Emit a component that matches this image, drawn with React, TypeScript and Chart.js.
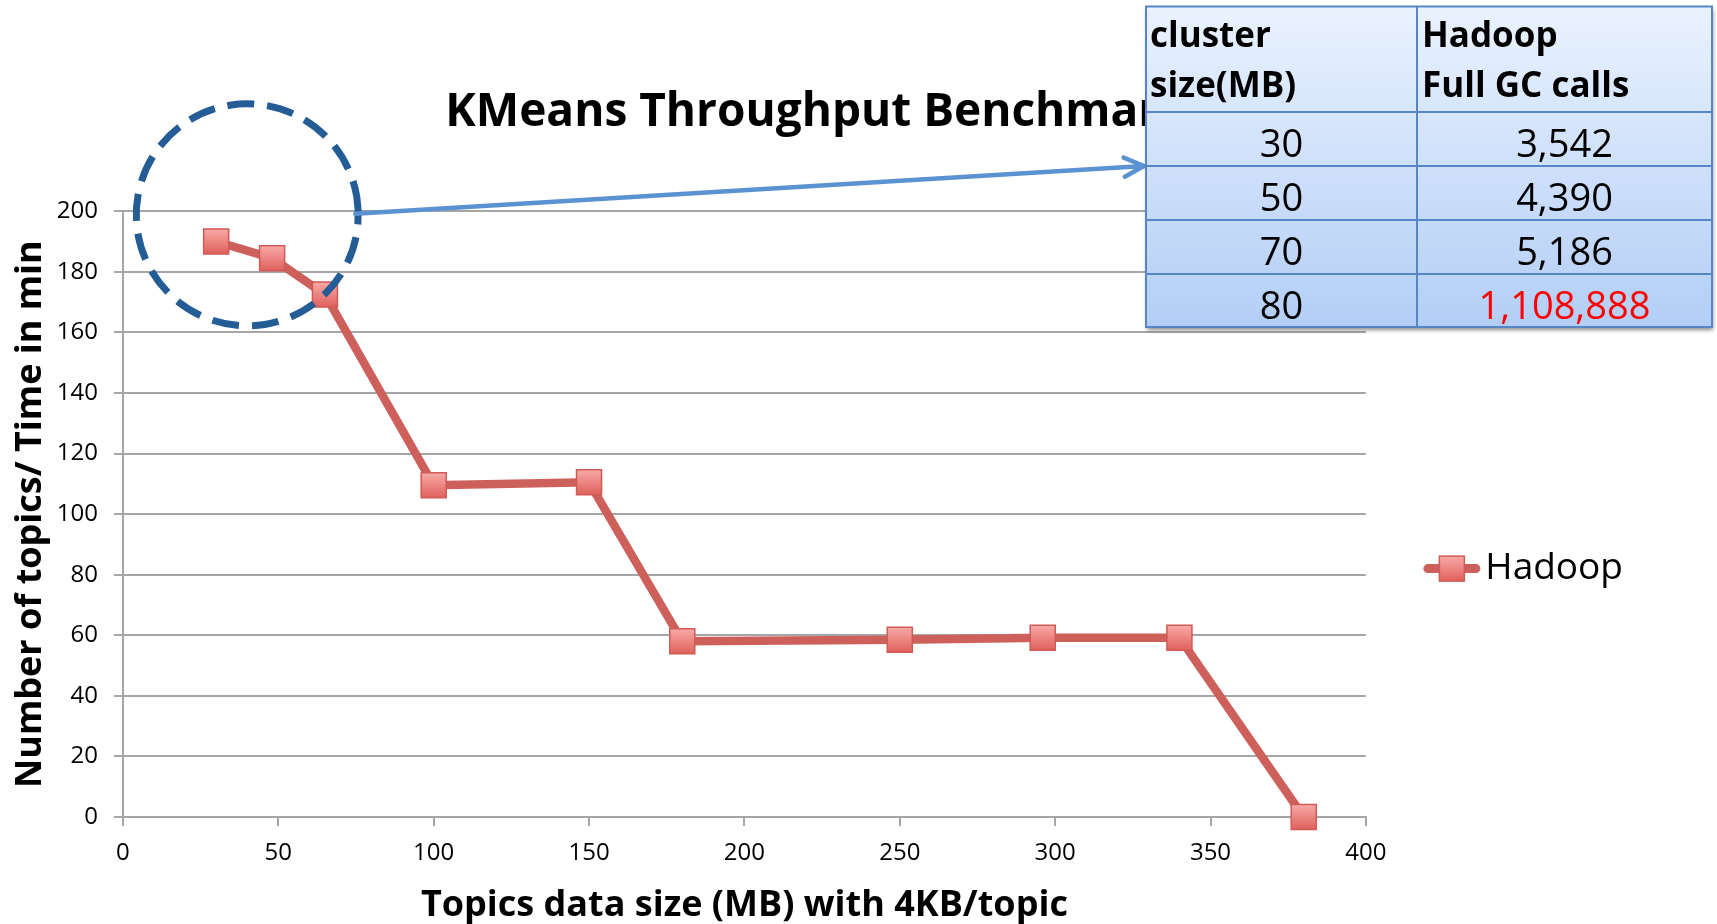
import React, { useEffect, useRef } from 'react';
import { Chart, registerables } from 'chart.js';

Chart.register(...registerables);

// ---- data ----
const chartTitle = 'KMeans Throughput Benchmark';
const xAxisTitle = 'Topics data size (MB) with 4KB/topic';
const yAxisTitle = 'Number of topics/ Time in min';
const seriesName = 'Hadoop';
const dataSizesMB = [30, 48, 65, 100, 150, 180, 250, 296, 340, 380];
const throughput = [190, 184.5, 172.5, 109.5, 110.5, 58, 58.5, 59.2, 59.2, 0];
const xTicks = [0, 50, 100, 150, 200, 250, 300, 350, 400];
const yTicks = [0, 20, 40, 60, 80, 100, 120, 140, 160, 180, 200];
const tableHeaderLeft = ['cluster', 'size(MB)'];
const tableHeaderRight = ['Hadoop', 'Full GC calls'];
const clusterSizes = ['30', '50', '70', '80'];
const fullGcCalls = ['3,542', '4,390', '5,186', '1,108,888'];
const highlightedRow = 3;
// circled region (data units)
const circleCenter = { x: 40, y: 198.8 };

const FONT = "'Open Sans', 'Noto Sans', 'DejaVu Sans', sans-serif";
const LINE_COLOR = 'rgb(205,96,90)';
const GRID = '#a6a6a6';

function markerFill(ctx: CanvasRenderingContext2D, cy: number, half: number) {
  if (!isFinite(cy)) return '#ec7672';
  const g = ctx.createLinearGradient(0, cy - half, 0, cy + half);
  g.addColorStop(0, '#f8aaa8');
  g.addColorStop(1, '#e0605b');
  return g;
}

const overlayPlugin = {
  id: 'overlay',
  afterDraw(chart: any) {
    const ctx: CanvasRenderingContext2D = chart.ctx;
    const xs = chart.scales.x;
    const ys = chart.scales.y;

    // legend marker (line + square) over the legend's box slot
    const legend = chart.legend;
    if (legend && legend.legendHitBoxes && legend.legendHitBoxes[0]) {
      const hb = legend.legendHitBoxes[0];
      const my = hb.top + hb.height / 2;
      const lx = hb.left;
      ctx.save();
      ctx.strokeStyle = LINE_COLOR;
      ctx.lineWidth = 9;
      ctx.lineCap = 'round';
      ctx.beginPath();
      ctx.moveTo(lx + 4, my);
      ctx.lineTo(lx + 52, my);
      ctx.stroke();
      const s = 25;
      const sx = lx + 28 - s / 2;
      ctx.fillStyle = markerFill(ctx, my, s / 2);
      ctx.fillRect(sx, my - s / 2, s, s);
      ctx.strokeStyle = 'rgb(208,90,86)';
      ctx.lineWidth = 1.5;
      ctx.strokeRect(sx, my - s / 2, s, s);
      ctx.restore();
    }

    // dashed circle
    const cx = xs.getPixelForValue(circleCenter.x);
    const cy = ys.getPixelForValue(circleCenter.y);
    const r = 111;
    ctx.save();
    ctx.strokeStyle = 'rgb(36,92,150)';
    ctx.lineWidth = 7;
    ctx.setLineDash([27, 13]);
    ctx.beginPath();
    ctx.arc(cx, cy, r, -Math.PI * 0.05, Math.PI * 2 - Math.PI * 0.05);
    ctx.stroke();
    ctx.restore();

    // table geometry
    const tL = 1146, tR = 1712, tT = 6.5, tB = 327, colX = 1417;
    const rowLines = [112, 166, 220, 274];

    // arrow
    const ax0 = cx + r - 3, ay0 = cy - 1;
    const ax1 = tL - 2, ay1 = 166;
    ctx.save();
    ctx.strokeStyle = 'rgb(91,146,210)';
    ctx.lineWidth = 4.5;
    ctx.lineCap = 'round';
    ctx.lineJoin = 'round';
    ctx.beginPath();
    ctx.moveTo(ax0, ay0);
    ctx.lineTo(ax1, ay1);
    const ang = Math.atan2(ay1 - ay0, ax1 - ax0);
    const hl = 22;
    ctx.moveTo(ax1 - hl * Math.cos(ang - 0.45), ay1 - hl * Math.sin(ang - 0.45));
    ctx.lineTo(ax1, ay1);
    ctx.lineTo(ax1 - hl * Math.cos(ang + 0.45), ay1 - hl * Math.sin(ang + 0.45));
    ctx.stroke();
    ctx.restore();

    // table
    ctx.save();
    ctx.shadowColor = 'rgba(0,0,0,0.45)';
    ctx.shadowBlur = 4;
    ctx.shadowOffsetX = 1;
    ctx.shadowOffsetY = 3;
    const tg = ctx.createLinearGradient(0, tT, 0, tB);
    tg.addColorStop(0, '#eaf2fe');
    tg.addColorStop(1, '#b3cef6');
    ctx.fillStyle = tg;
    ctx.fillRect(tL, tT, tR - tL, tB - tT);
    ctx.restore();

    ctx.save();
    ctx.strokeStyle = 'rgb(84,134,200)';
    ctx.lineWidth = 2;
    ctx.strokeRect(tL, tT, tR - tL, tB - tT);
    ctx.beginPath();
    ctx.moveTo(colX, tT);
    ctx.lineTo(colX, tB);
    rowLines.forEach((yy) => {
      ctx.moveTo(tL, yy);
      ctx.lineTo(tR, yy);
    });
    ctx.stroke();

    ctx.fillStyle = '#000';
    ctx.textBaseline = 'alphabetic';
    ctx.textAlign = 'left';
    ctx.font = `bold 35px ${FONT}`;
    ctx.fillText(tableHeaderLeft[0], tL + 4, 46.5);
    ctx.fillText(tableHeaderLeft[1], tL + 4, 96.5);
    ctx.fillText(tableHeaderRight[0], colX + 5, 46.5);
    ctx.fillText(tableHeaderRight[1], colX + 5, 96.5);

    ctx.font = `38px ${FONT}`;
    ctx.textAlign = 'center';
    const rowTops = [112, 166, 220, 274];
    clusterSizes.forEach((v, i) => {
      const base = rowTops[i] + 45;
      ctx.fillStyle = '#000';
      ctx.fillText(v, (tL + colX) / 2, base);
      ctx.fillStyle = i === highlightedRow ? '#ff0000' : '#000';
      ctx.fillText(fullGcCalls[i], (colX + tR) / 2, base);
    });
    ctx.restore();
  },
};

export default function App() {
  const ref = useRef<HTMLCanvasElement | null>(null);

  useEffect(() => {
    document.body.style.margin = '0';
    document.body.style.overflow = 'hidden';
    const canvas = ref.current;
    if (!canvas) return;
    Chart.defaults.font.family = FONT;

    const chart = new Chart(canvas, {
      type: 'line',
      data: {
        datasets: [
          {
            label: seriesName,
            data: dataSizesMB.map((x, i) => ({ x, y: throughput[i] })),
            borderColor: LINE_COLOR,
            borderWidth: 8.5,
            pointStyle: 'rect',
            pointRadius: 17.7,
            pointHoverRadius: 17.7,
            pointBorderWidth: 1.5,
            pointBorderColor: 'rgb(208,90,86)',
            pointBackgroundColor: (c: any) => {
              const ch = c.chart;
              if (c.type !== 'data' || !ch.scales || !ch.scales.y || !c.raw) return '#ec7672';
              const y = ch.scales.y.getPixelForValue(c.raw.y);
              return markerFill(ch.ctx, y, 12.5);
            },
            tension: 0,
            clip: false as any,
          },
        ],
      },
      options: {
        responsive: false,
        animation: false,
        events: [],
        layout: { padding: { left: 0, right: 84, top: 0, bottom: 0 } },
        plugins: {
          title: {
            display: true,
            text: chartTitle,
            color: '#000',
            font: { size: 46, weight: 'bold', family: FONT, lineHeight: 1.2 },
            padding: { top: 85, bottom: 71 },
          },
          legend: {
            display: true,
            position: 'right',
            fullSize: false,
            title: {
              display: true,
              text: ' ',
              font: { size: 10, lineHeight: 1 },
              padding: { top: 99, bottom: 0 },
            },
            labels: {
              color: '#000',
              font: { size: 37, family: FONT },
              padding: 58,
              boxWidth: 43,
              boxHeight: 9,
              generateLabels: (ch: any) =>
                ch.data.datasets.map((d: any, i: number) => ({
                  text: d.label,
                  fillStyle: 'rgba(0,0,0,0)',
                  strokeStyle: 'rgba(0,0,0,0)',
                  lineWidth: 0,
                  hidden: false,
                  datasetIndex: i,
                  fontColor: '#000',
                })),
            },
          },
          tooltip: { enabled: false },
        },
        scales: {
          x: {
            type: 'linear',
            min: 0,
            max: 400,
            afterBuildTicks: (s: any) => {
              s.ticks = xTicks.map((v) => ({ value: v }));
            },
            ticks: { color: '#000', font: { size: 24, family: FONT }, padding: 13 },
            grid: { drawOnChartArea: false, drawTicks: true, tickLength: 9, color: GRID, lineWidth: 2 },
            border: { display: true, color: GRID, width: 2 },
            title: {
              display: true,
              text: xAxisTitle,
              color: '#000',
              font: { size: 36, weight: 'bold', family: FONT, lineHeight: 1.2 },
              padding: { top: 3.3, bottom: -3.3 },
            },
          },
          y: {
            type: 'linear',
            min: 0,
            max: 200,
            afterBuildTicks: (s: any) => {
              s.ticks = yTicks.map((v) => ({ value: v }));
            },
            ticks: { color: '#000', font: { size: 24, family: FONT }, padding: 16 },
            grid: { drawTicks: true, tickLength: 9, color: GRID, lineWidth: 2 },
            border: { display: true, color: GRID, width: 2 },
            title: {
              display: true,
              text: yAxisTitle,
              color: '#000',
              font: { size: 36, weight: 'bold', family: FONT, lineHeight: 1.2 },
              padding: { top: 8.7, bottom: -11.1 },
            },
          },
        },
      } as any,
      plugins: [overlayPlugin],
    });

    return () => chart.destroy();
  }, []);

  return <canvas ref={ref} width={1717} height={924} style={{ display: 'block' }} />;
}
